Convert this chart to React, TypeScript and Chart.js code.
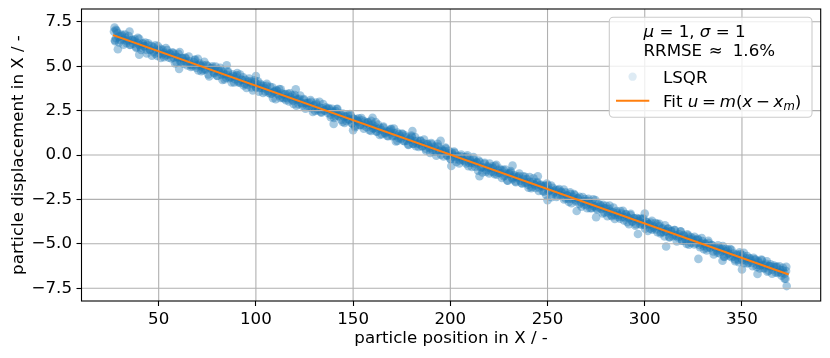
import { useEffect, useRef } from "react";
import { Chart, registerables } from "chart.js";

Chart.register(...registerables);

// ---------- data ----------
const xTicks = [50, 100, 150, 200, 250, 300, 350];
const xTickLabels = ["50", "100", "150", "200", "250", "300", "350"];
const yTicks = [-7.5, -5, -2.5, 0, 2.5, 5, 7.5];
const yTickLabels = ["\u22127.5", "\u22125.0", "\u22122.5", "0.0", "2.5", "5.0", "7.5"];
const xLimits = [10.3, 390.5];
const yLimits = [-8.22, 8.22];

const xTitle = "particle position in X / -";
const yTitle = "particle displacement in X / -";

// LSQR reconstructed displacements (particle position, displacement) - part A
const lsqrX = [
  27.3, 28.1, 28.8, 29.6, 30.4, 31.1, 32.0, 32.7, 33.5, 34.3, 35.2, 36.0, 27.0, 27.6, 28.0, 29.0,
  37.0, 37.7, 38.5, 39.2, 40.0, 40.8, 41.6, 42.3, 43.1, 43.9, 44.7, 45.6, 46.4,
  47.3, 48.1, 48.8, 49.6, 50.4, 51.1, 52.0, 52.7, 53.5, 54.3, 55.2, 56.0,
  57.0, 57.7, 58.5, 59.2, 60.0, 60.8, 61.6, 62.3, 63.1, 63.9, 64.7, 65.6, 66.4,
  67.3, 68.1, 68.8, 69.6, 70.4, 71.1, 72.0, 72.7, 73.5, 74.3, 75.2, 76.0,
  77.0, 77.7, 78.5, 79.2, 80.0, 80.8, 81.6, 82.3, 83.1, 83.9, 84.7, 85.6, 86.4,
  87.3, 88.1, 88.8, 89.6, 90.4, 91.1, 92.0, 92.7, 93.5, 94.3, 95.2, 96.0,
  97.0, 97.7, 98.5, 99.2, 100.0, 100.8, 101.6, 102.3, 103.1, 103.9, 104.7, 105.6, 106.4,
  107.3, 108.1, 108.8, 109.6, 110.4, 111.1, 112.0, 112.7, 113.5, 114.3, 115.2, 116.0,
  117.0, 117.7, 118.5, 119.2, 120.0, 120.8, 121.6, 122.3, 123.1, 123.9, 124.7, 125.6, 126.4,
  127.3, 128.1, 128.8, 129.6, 130.4, 131.1, 132.0, 132.7, 133.5, 134.3, 135.2, 136.0,
  137.0, 137.7, 138.5, 139.2, 140.0, 140.8, 141.6, 142.3, 143.1, 143.9, 144.7, 145.6, 146.4,
  147.3, 148.1, 148.8, 149.6, 150.4, 151.1, 152.0, 152.7, 153.5, 154.3, 155.2, 156.0,
  157.0, 157.7, 158.5, 159.2, 160.0, 160.8, 161.6, 162.3, 163.1, 163.9, 164.7, 165.6, 166.4,
  167.3, 168.1, 168.8, 169.6, 170.4, 171.1, 172.0, 172.7, 173.5, 174.3, 175.2, 176.0,
  177.0, 177.7, 178.5, 179.2, 180.0, 180.8, 181.6, 182.3, 183.1, 183.9, 184.7, 185.6, 186.4,
  187.3, 188.1, 188.8, 189.6, 190.4, 191.1, 192.0, 192.7, 193.5, 194.3, 195.2, 196.0,
  197.0, 197.7, 198.5, 199.2, 200.0, 200.8, 201.6, 202.3, 203.1, 203.9, 204.7, 205.6, 206.4,
  207.3, 208.1, 208.8, 209.6, 210.4, 211.1, 212.0, 212.7, 213.5, 214.3, 215.2, 216.0,
  217.0, 217.7, 218.5, 219.2, 220.0, 220.8, 221.6, 222.3, 223.1, 223.9, 224.7, 225.6, 226.4,
  227.3, 228.1, 228.8, 229.6, 230.4, 231.1, 232.0, 232.7, 233.5, 234.3, 235.2, 236.0,
  237.0, 237.7, 238.5, 239.2, 240.0, 240.8, 241.6, 242.3, 243.1, 243.9, 244.7, 245.6, 246.4,
  247.3, 248.1, 248.8, 249.6, 250.4, 251.1, 252.0, 252.7, 253.5, 254.3, 255.2, 256.0,
  257.0, 257.7, 258.5, 259.2, 260.0, 260.8, 261.6, 262.3, 263.1, 263.9, 264.7, 265.6, 266.4,
  267.3, 268.1, 268.8, 269.6, 270.4, 271.1, 272.0, 272.7, 273.5, 274.3, 275.2, 276.0,
  277.0, 277.7, 278.5, 279.2, 280.0, 280.8, 281.6, 282.3, 283.1, 283.9, 284.7, 285.6, 286.4,
  287.3, 288.1, 288.8, 289.6, 290.4, 291.1, 292.0, 292.7, 293.5, 294.3, 295.2, 296.0,
  297.0, 297.7, 298.5, 299.2, 300.0, 300.8, 301.6, 302.3, 303.1, 303.9, 304.7, 305.6, 306.4,
  307.3, 308.1, 308.8, 309.6, 310.4, 311.1, 312.0, 312.7, 313.5, 314.3, 315.2, 316.0,
  317.0, 317.7, 318.5, 319.2, 320.0, 320.8, 321.6, 322.3, 323.1, 323.9, 324.7, 325.6, 326.4,
  327.3, 328.1, 328.8, 329.6, 330.4, 331.1, 332.0, 332.7, 333.5, 334.3, 335.2, 336.0,
  337.0, 337.7, 338.5, 339.2, 340.0, 340.8, 341.6, 342.3, 343.1, 343.9, 344.7, 345.6, 346.4,
  347.3, 348.1, 348.8, 349.6, 350.4, 351.1, 352.0, 352.7, 353.5, 354.3, 355.2, 356.0,
  357.0, 357.7, 358.5, 359.2, 360.0, 360.8, 361.6, 362.3, 363.1, 363.9, 364.7, 365.6, 366.4,
  367.3, 368.1, 368.8, 369.6, 370.4, 371.1, 372.0, 372.7, 373.0, 372.4,
  311.0, 327.6, 296.5, 250.0, 180.5, 120.5, 60.5, 85.0, 140.0, 232.0, 265.0, 350.0, 100.0,
  200.5, 40.0, 160.0, 215.0, 300.0, 340.0, 150.0, 245.0, 275.0, 35.0, 195.0, 358.0,
];
const lsqrY = [
  7.17, 6.57, 6.87, 6.33, 6.68, 6.72, 6.49, 6.78, 6.30, 6.48, 6.19, 6.49, 6.95, 6.40, 7.05, 5.95,
  6.26, 6.51, 6.03, 6.30, 6.54, 6.06, 6.25, 6.12, 6.33, 5.72, 6.17, 5.94, 6.15,
  6.06, 5.71, 5.93, 6.13, 5.71, 5.47, 5.92, 5.75, 5.61, 5.91, 5.48, 5.68,
  5.78, 5.48, 5.65, 5.21, 5.48, 5.80, 5.24, 5.46, 5.29, 5.48, 5.04, 5.29, 5.08,
  5.00, 5.23, 5.37, 5.04, 4.76, 5.15, 4.99, 4.77, 5.25, 4.82, 5.01, 4.42,
  4.86, 5.00, 4.60, 4.73, 4.46, 4.80, 4.91, 4.52, 4.66, 4.26, 4.53, 4.65, 4.33,
  4.36, 4.54, 4.09, 4.41, 4.62, 4.15, 4.05, 4.23, 4.37, 4.00, 3.77, 4.13,
  4.15, 3.80, 3.99, 4.20, 3.83, 3.97, 3.56, 4.01, 3.77, 3.90, 3.58, 4.01, 3.60,
  3.84, 3.47, 3.20, 3.59, 3.66, 3.45, 3.72, 3.21, 3.46, 3.19, 3.43, 3.20,
  3.02, 3.26, 3.36, 3.05, 3.38, 2.78, 3.14, 3.17, 2.95, 2.78, 3.15, 2.92, 2.74,
  2.94, 3.09, 2.63, 2.75, 2.48, 2.85, 2.59, 3.00, 2.42, 2.63, 2.51, 2.69,
  2.37, 2.57, 2.13, 2.60, 2.39, 2.20, 2.59, 2.22, 2.32, 1.98, 2.33, 1.80, 2.17,
  2.23, 1.98, 2.24, 1.78, 2.02, 1.64, 2.00, 1.88, 1.68, 2.08, 1.66, 1.88,
  1.56, 1.86, 1.69, 1.35, 1.71, 1.51, 1.85, 1.31, 1.46, 1.53, 1.17, 1.60, 1.26,
  1.33, 1.06, 1.38, 1.47, 1.09, 1.24, 0.76, 1.27, 0.94, 1.04, 1.21, 0.79,
  1.09, 0.81, 0.59, 0.92, 1.09, 0.62, 0.78, 0.49, 0.80, 0.62, 0.81, 0.49, 0.66,
  0.36, 0.60, 0.47, 0.12, 0.60, 0.30, 0.49, 0.18, 0.63, 0.20, 0.01, 0.25,
  0.22, 0.37, -0.03, 0.08, -0.21, 0.14, -0.09, 0.12, -0.39, -0.06, -0.30, 0.02, -0.25,
  -0.13, -0.48, -0.01, -0.43, -0.34, -0.67, -0.25, -0.49, -0.40, -0.89, -0.40, -0.69,
  -0.70, -0.44, -0.86, -0.63, -1.04, -0.75, -0.64, -0.97, -0.61, -1.11, -0.86, -1.01, -0.86,
  -0.83, -1.17, -1.04, -1.45, -1.03, -0.91, -1.37, -1.23, -1.49, -1.22, -1.18, -1.45,
  -1.61, -1.37, -1.23, -1.55, -1.67, -1.24, -1.87, -1.51, -1.63, -1.85, -1.52, -1.83, -1.66,
  -1.77, -2.07, -1.72, -1.61, -2.05, -1.96, -2.37, -1.84, -2.10, -1.96, -2.30, -1.92,
  -2.07, -2.31, -2.50, -2.10, -2.27, -2.48, -2.10, -2.71, -2.35, -2.25, -2.55, -2.43, -2.76,
  -2.67, -2.37, -2.78, -2.61, -3.00, -2.59, -2.75, -2.99, -2.49, -2.89, -3.01, -2.75,
  -2.81, -3.04, -2.81, -3.23, -3.00, -3.45, -3.03, -3.17, -3.44, -2.96, -3.37, -3.25, -3.49,
  -3.58, -3.30, -3.14, -3.52, -3.35, -3.78, -3.56, -3.38, -3.73, -3.57, -3.98, -3.55,
  -3.72, -3.58, -3.94, -3.58, -3.95, -3.78, -4.28, -3.89, -3.81, -4.21, -4.03, -4.19, -3.88,
  -4.02, -4.42, -4.15, -4.34, -3.96, -4.32, -4.15, -4.64, -4.30, -4.57, -4.23, -4.54,
  -4.64, -4.47, -4.31, -4.83, -4.50, -4.72, -5.01, -4.53, -4.72, -4.95, -4.71, -4.60, -4.97,
  -4.72, -5.06, -4.96, -4.85, -5.31, -4.98, -5.24, -4.83, -5.21, -5.07, -5.43, -5.19,
  -5.37, -5.09, -5.54, -5.33, -5.28, -5.74, -5.29, -5.60, -5.53, -5.30, -5.75, -5.55, -5.88,
  -5.59, -5.89, -5.48, -5.82, -5.65, -6.09, -5.82, -5.69, -6.06, -5.83, -6.08, -5.79,
  -5.88, -6.19, -6.06, -6.39, -5.89, -6.20, -6.39, -6.12, -6.57, -6.25, -6.16, -6.46, -6.31,
  -6.62, -6.29, -6.59, -6.46, -6.80, -6.35, -6.68, -6.53, -7.38, -6.97,
  -5.15, -5.85, -4.45, -2.55, 1.35, 3.70, 4.85, 5.05, 1.75, -0.60, -3.15, -6.45, 4.45,
  -0.62, 5.65, 2.10, -1.20, -3.30, -5.95, 1.40, -1.20, -3.50, 6.95, 0.80, -6.70,
];

// LSQR reconstructed displacements - part B
const lsqrXb = [
  27.5, 28.4, 29.3, 30.2, 31.0, 31.9, 32.8, 33.7, 34.6, 35.5, 36.5,
  37.5, 38.4, 39.3, 40.2, 41.0, 41.9, 42.8, 43.7, 44.6, 45.5, 46.5,
  47.5, 48.4, 49.3, 50.2, 51.0, 51.9, 52.8, 53.7, 54.6, 55.5, 56.5,
  57.5, 58.4, 59.3, 60.2, 61.0, 61.9, 62.8, 63.7, 64.6, 65.5, 66.5,
  67.5, 68.4, 69.3, 70.2, 71.0, 71.9, 72.8, 73.7, 74.6, 75.5, 76.5,
  77.5, 78.4, 79.3, 80.2, 81.0, 81.9, 82.8, 83.7, 84.6, 85.5, 86.5,
  87.5, 88.4, 89.3, 90.2, 91.0, 91.9, 92.8, 93.7, 94.6, 95.5, 96.5,
  97.5, 98.4, 99.3, 100.2, 101.0, 101.9, 102.8, 103.7, 104.6, 105.5, 106.5,
  107.5, 108.4, 109.3, 110.2, 111.0, 111.9, 112.8, 113.7, 114.6, 115.5, 116.5,
  117.5, 118.4, 119.3, 120.2, 121.0, 121.9, 122.8, 123.7, 124.6, 125.5, 126.5,
  127.5, 128.4, 129.3, 130.2, 131.0, 131.9, 132.8, 133.7, 134.6, 135.5, 136.5,
  137.5, 138.4, 139.3, 140.2, 141.0, 141.9, 142.8, 143.7, 144.6, 145.5, 146.5,
  147.5, 148.4, 149.3, 150.2, 151.0, 151.9, 152.8, 153.7, 154.6, 155.5, 156.5,
  157.5, 158.4, 159.3, 160.2, 161.0, 161.9, 162.8, 163.7, 164.6, 165.5, 166.5,
  167.5, 168.4, 169.3, 170.2, 171.0, 171.9, 172.8, 173.7, 174.6, 175.5, 176.5,
  177.5, 178.4, 179.3, 180.2, 181.0, 181.9, 182.8, 183.7, 184.6, 185.5, 186.5,
  187.5, 188.4, 189.3, 190.2, 191.0, 191.9, 192.8, 193.7, 194.6, 195.5, 196.5,
  197.5, 198.4, 199.3, 200.2, 201.0, 201.9, 202.8, 203.7, 204.6, 205.5, 206.5,
  207.5, 208.4, 209.3, 210.2, 211.0, 211.9, 212.8, 213.7, 214.6, 215.5, 216.5,
  217.5, 218.4, 219.3, 220.2, 221.0, 221.9, 222.8, 223.7, 224.6, 225.5, 226.5,
  227.5, 228.4, 229.3, 230.2, 231.0, 231.9, 232.8, 233.7, 234.6, 235.5, 236.5,
  237.5, 238.4, 239.3, 240.2, 241.0, 241.9, 242.8, 243.7, 244.6, 245.5, 246.5,
  247.5, 248.4, 249.3, 250.2, 251.0, 251.9, 252.8, 253.7, 254.6, 255.5, 256.5,
  257.5, 258.4, 259.3, 260.2, 261.0, 261.9, 262.8, 263.7, 264.6, 265.5, 266.5,
  267.5, 268.4, 269.3, 270.2, 271.0, 271.9, 272.8, 273.7, 274.6, 275.5, 276.5,
  277.5, 278.4, 279.3, 280.2, 281.0, 281.9, 282.8, 283.7, 284.6, 285.5, 286.5,
  287.5, 288.4, 289.3, 290.2, 291.0, 291.9, 292.8, 293.7, 294.6, 295.5, 296.5,
  297.5, 298.4, 299.3, 300.2, 301.0, 301.9, 302.8, 303.7, 304.6, 305.5, 306.5,
  307.5, 308.4, 309.3, 310.2, 311.0, 311.9, 312.8, 313.7, 314.6, 315.5, 316.5,
  317.5, 318.4, 319.3, 320.2, 321.0, 321.9, 322.8, 323.7, 324.6, 325.5, 326.5,
  327.5, 328.4, 329.3, 330.2, 331.0, 331.9, 332.8, 333.7, 334.6, 335.5, 336.5,
  337.5, 338.4, 339.3, 340.2, 341.0, 341.9, 342.8, 343.7, 344.6, 345.5, 346.5,
  347.5, 348.4, 349.3, 350.2, 351.0, 351.9, 352.8, 353.7, 354.6, 355.5, 356.5,
  357.5, 358.4, 359.3, 360.2, 361.0, 361.9, 362.8, 363.7, 364.6, 365.5, 366.5,
  367.5, 368.4, 369.3, 370.2, 371.0, 371.9, 372.8,
];
const lsqrYb = [
  6.46, 6.99, 6.66, 6.47, 6.78, 6.21, 6.60, 6.41, 6.70, 6.21, 6.49,
  6.40, 6.08, 6.60, 6.18, 5.91, 6.30, 6.13, 5.91, 6.29, 5.92, 5.59,
  5.82, 6.17, 5.57, 5.89, 5.98, 5.68, 5.50, 6.02, 5.64, 5.73, 5.43,
  5.74, 5.16, 5.52, 5.70, 5.28, 5.46, 5.14, 5.45, 5.22, 5.54, 4.96,
  5.09, 5.34, 4.91, 5.41, 5.05, 4.72, 5.07, 4.82, 5.07, 4.54, 4.88,
  4.91, 4.65, 4.98, 4.45, 4.69, 4.77, 4.23, 4.55, 4.35, 4.71, 4.39,
  4.09, 4.45, 4.27, 4.49, 4.09, 4.53, 4.24, 3.91, 4.24, 3.96, 4.30,
  4.06, 3.64, 4.11, 3.79, 4.15, 3.77, 3.91, 3.49, 3.75, 3.89, 3.51,
  3.44, 3.81, 3.55, 3.14, 3.62, 3.35, 3.70, 3.24, 3.40, 3.08, 3.44,
  3.47, 3.12, 2.88, 3.24, 3.10, 2.86, 3.35, 2.90, 3.10, 2.61, 2.92,
  2.73, 2.99, 2.43, 2.80, 2.96, 2.51, 2.67, 2.38, 2.87, 2.50, 2.60,
  2.65, 2.27, 2.45, 2.09, 2.47, 2.60, 2.17, 2.31, 1.86, 2.16, 1.91,
  2.02, 2.30, 1.79, 2.05, 1.57, 1.93, 2.07, 1.69, 1.95, 1.48, 1.80,
  1.82, 1.40, 1.92, 1.50, 1.62, 1.33, 1.72, 1.13, 1.41, 1.55, 1.21,
  1.07, 1.31, 1.45, 1.04, 1.49, 1.09, 0.79, 1.18, 0.92, 1.17, 0.77,
  1.00, 0.56, 0.87, 1.02, 0.64, 1.01, 0.65, 0.45, 0.78, 0.49, 0.87,
  0.24, 0.63, 0.38, 0.67, 0.18, 0.42, -0.04, 0.47, 0.22, 0.32, -0.08,
  0.42, -0.03, 0.23, -0.23, 0.04, 0.19, -0.24, -0.10, -0.48, -0.08, -0.31,
  -0.36, -0.10, -0.63, -0.24, -0.44, -0.12, -0.66, -0.44, -0.31, -0.72, -0.98,
  -0.49, -0.95, -0.70, -0.48, -0.93, -0.73, -1.08, -0.55, -1.00, -0.78, -1.29,
  -1.19, -0.82, -1.44, -1.07, -0.99, -1.29, -1.13, -1.53, -1.29, -1.05, -1.57,
  -1.20, -1.57, -1.36, -1.84, -1.51, -1.80, -1.31, -1.70, -1.59, -2.02, -1.70,
  -2.03, -1.75, -2.25, -1.71, -2.00, -1.72, -2.18, -2.02, -2.36, -1.97, -2.26,
  -2.12, -1.95, -2.45, -2.30, -2.64, -2.20, -2.48, -2.20, -2.62, -2.45, -2.36,
  -2.91, -2.60, -2.48, -2.83, -2.47, -2.99, -2.71, -2.89, -2.54, -3.07, -2.94,
  -2.86, -3.29, -3.00, -2.86, -3.23, -2.85, -3.39, -3.21, -3.60, -3.15, -3.38,
  -3.16, -3.49, -3.69, -3.32, -3.48, -3.90, -3.31, -3.75, -3.56, -3.89, -3.61,
  -3.88, -3.60, -3.86, -4.15, -3.76, -3.89, -4.15, -3.70, -4.11, -3.83, -4.34,
  -3.88, -4.35, -4.13, -4.59, -4.28, -4.14, -4.61, -4.27, -4.48, -4.23, -4.87,
  -4.59, -4.29, -4.82, -4.58, -4.82, -4.47, -5.05, -4.62, -4.80, -5.04, -4.79,
  -4.77, -5.19, -4.68, -5.12, -5.02, -5.37, -4.94, -5.20, -5.07, -5.60, -5.20,
  -5.50, -5.23, -5.43, -5.12, -5.71, -5.42, -5.33, -5.70, -5.34, -5.71, -5.98,
  -5.64, -6.03, -5.57, -5.93, -5.51, -5.94, -6.11, -5.80, -5.95, -6.26, -5.88,
  -6.31, -5.97, -6.24, -5.93, -6.38, -6.22, -5.99, -6.52, -6.27, -6.68, -6.22,
  -6.29, -6.64, -6.27, -6.64, -6.49, -6.96, -6.29,
];

// linear fit u = m (x - x_m), end points
const fitX = [27.0, 373.5];
const fitY = [6.73, -6.71];

// ---------- styling ----------
const FONT = '"DejaVu Sans", sans-serif';
const FS = 16.67;
const BLUE = "31,119,180";
const ORANGE = "#ff7f0e";

type Run = { t?: string; it?: boolean; sub?: boolean; sp?: number };

function drawRuns(ctx: CanvasRenderingContext2D, runs: Run[], x: number, y: number) {
  let cx = x;
  for (const r of runs) {
    if (r.sp) {
      cx += r.sp * FS;
      continue;
    }
    const fs = r.sub ? FS * 0.7 : FS;
    ctx.font = `${r.it ? "italic " : ""}${fs}px ${FONT}`;
    ctx.fillText(r.t || "", cx, r.sub ? y + 3.6 : y);
    cx += ctx.measureText(r.t || "").width;
  }
}

const decorPlugin = {
  id: "mplDecor",
  afterDatasetDraw(chart: any, args: any) {
    if (args.index !== 0) return;
    const { ctx, chartArea: a, scales } = chart;
    ctx.save();
    ctx.strokeStyle = "#b0b0b0";
    ctx.lineWidth = 1.1;
    ctx.beginPath();
    for (const v of xTicks) {
      const p = scales.x.getPixelForValue(v);
      ctx.moveTo(p, a.top);
      ctx.lineTo(p, a.bottom);
    }
    for (const v of yTicks) {
      const p = scales.y.getPixelForValue(v);
      ctx.moveTo(a.left, p);
      ctx.lineTo(a.right, p);
    }
    ctx.stroke();
    ctx.restore();
  },
  afterDatasetsDraw(chart: any) {
    const { ctx, chartArea: a } = chart;
    ctx.save();
    // frame
    ctx.strokeStyle = "#000";
    ctx.lineWidth = 1.1;
    ctx.strokeRect(a.left, a.top, a.right - a.left, a.bottom - a.top);

    // legend
    const bw = 202.7;
    const bh = 100;
    const bx = a.right - 8.7 - bw;
    const by = a.top + 8.3;
    ctx.beginPath();
    ctx.roundRect(bx, by, bw, bh, 4);
    ctx.fillStyle = "rgba(255,255,255,0.8)";
    ctx.fill();
    ctx.strokeStyle = "#cccccc";
    ctx.lineWidth = 1.1;
    ctx.stroke();

    ctx.fillStyle = "#000";
    ctx.textBaseline = "alphabetic";
    ctx.textAlign = "left";
    drawRuns(
      ctx,
      [{ t: "\u03bc", it: true }, { t: " = 1, " }, { t: "\u03c3", it: true }, { t: " = 1" }],
      bx + 34.2,
      by + 20
    );
    drawRuns(ctx, [{ t: "RRMSE" }, { sp: 0.4 }, { t: "\u2248" }, { sp: 0.6 }, { t: "1.6%" }], bx + 34.2, by + 38.7);

    // LSQR marker
    ctx.beginPath();
    ctx.arc(bx + 23.3, by + 59.4, 4.17, 0, Math.PI * 2);
    ctx.fillStyle = `rgba(${BLUE},0.15)`;
    ctx.fill();
    ctx.fillStyle = "#000";
    drawRuns(ctx, [{ t: "LSQR" }], bx + 53.7, by + 65.2);

    // Fit handle
    ctx.beginPath();
    ctx.moveTo(bx + 6.7, by + 83.4);
    ctx.lineTo(bx + 40, by + 83.4);
    ctx.strokeStyle = ORANGE;
    ctx.lineWidth = 2.08;
    ctx.stroke();
    ctx.fillStyle = "#000";
    drawRuns(
      ctx,
      [
        { t: "Fit " },
        { t: "u", it: true },
        { sp: 0.22 },
        { t: "=" },
        { sp: 0.22 },
        { t: "m", it: true },
        { t: "(" },
        { t: "x", it: true },
        { sp: 0.22 },
        { t: "\u2212" },
        { sp: 0.22 },
        { t: "x", it: true },
        { t: "m", it: true, sub: true },
        { t: ")" },
      ],
      bx + 53.7,
      by + 89.4
    );
    ctx.restore();
  },
};

export default function App() {
  const canvasRef = useRef<HTMLCanvasElement | null>(null);

  useEffect(() => {
    const canvas = canvasRef.current;
    if (!canvas) return;

    const scatterData = [
      ...lsqrX.map((x, i) => ({ x, y: lsqrY[i] })),
      ...lsqrXb.map((x, i) => ({ x, y: lsqrYb[i] })),
    ];
    const fitData = fitX.map((x, i) => ({ x, y: fitY[i] }));

    const chart = new Chart(canvas, {
      type: "scatter",
      data: {
        datasets: [
          {
            type: "scatter",
            label: "LSQR",
            data: scatterData,
            pointRadius: 4.3,
            pointHoverRadius: 4.3,
            pointBorderWidth: 0,
            backgroundColor: `rgba(${BLUE},0.4)`,
            borderColor: `rgba(${BLUE},0)`,
            order: 2,
          } as any,
          {
            type: "line",
            label: "Fit",
            data: fitData,
            borderColor: ORANGE,
            borderWidth: 2.08,
            borderCapStyle: "square",
            pointRadius: 0,
            fill: false,
            tension: 0,
            order: 1,
          } as any,
        ],
      },
      options: {
        responsive: false,
        maintainAspectRatio: false,
        animation: false,
        devicePixelRatio: 1,
        events: [],
        layout: { padding: { left: 0, top: 9, right: 9.3, bottom: 0 } },
        plugins: {
          legend: { display: false },
          tooltip: { enabled: false },
          title: { display: false },
        },
        scales: {
          x: {
            type: "linear",
            min: xLimits[0],
            max: xLimits[1],
            afterBuildTicks: (s: any) => {
              s.ticks = xTicks.map((v) => ({ value: v }));
            },
            afterFit: (s: any) => {
              s.height = 57;
              s.paddingLeft = 0;
              s.paddingRight = 0;
            },
            ticks: {
              autoSkip: false,
              maxRotation: 0,
              minRotation: 0,
              padding: 3.5,
              color: "#000",
              font: { family: FONT, size: FS },
              callback: (v: any) => {
                const i = xTicks.indexOf(Number(v));
                return i >= 0 ? xTickLabels[i] : "";
              },
            },
            grid: {
              drawOnChartArea: false,
              drawTicks: true,
              tickLength: 5,
              tickColor: "#000",
              tickWidth: 1.1,
            },
            border: { display: false },
            title: {
              display: true,
              text: xTitle,
              color: "#000",
              font: { family: FONT, size: FS },
              padding: { top: 0, bottom: 9 },
            },
          },
          y: {
            type: "linear",
            min: yLimits[0],
            max: yLimits[1],
            afterBuildTicks: (s: any) => {
              s.ticks = yTicks.map((v) => ({ value: v }));
            },
            afterFit: (s: any) => {
              s.width = 81.5;
              s.paddingTop = 0;
              s.paddingBottom = 0;
            },
            ticks: {
              autoSkip: false,
              padding: 4.5,
              color: "#000",
              font: { family: FONT, size: FS },
              callback: (v: any) => {
                const i = yTicks.indexOf(Number(v));
                return i >= 0 ? yTickLabels[i] : "";
              },
            },
            grid: {
              drawOnChartArea: false,
              drawTicks: true,
              tickLength: 5,
              tickColor: "#000",
              tickWidth: 1.1,
            },
            border: { display: false },
            title: {
              display: true,
              text: yTitle,
              color: "#000",
              font: { family: FONT, size: FS },
              padding: { top: 9, bottom: 0 },
            },
          },
        },
      },
      plugins: [decorPlugin as any],
    });

    return () => chart.destroy();
  }, []);

  return (
    <div style={{ position: "absolute", left: 0, top: 0, width: 830, height: 358, background: "#fff" }}>
      <canvas ref={canvasRef} width={830} height={358} style={{ display: "block", width: 830, height: 358 }} />
    </div>
  );
}
